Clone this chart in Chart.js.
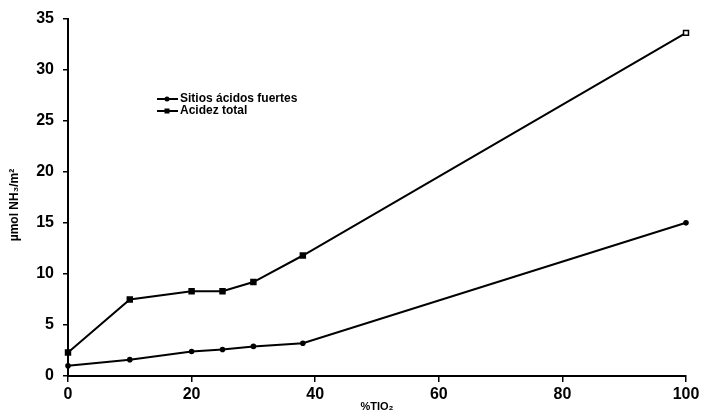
<!DOCTYPE html>
<html>
<head>
<meta charset="utf-8">
<script src="https://cdn.jsdelivr.net/npm/chart.js@4/dist/chart.umd.min.js"></script>
<style>
  html, body { margin: 0; padding: 0; background: #fff; }
  #wrap { width: 703px; height: 416px; position: relative; }
</style>
</head>
<body>
<div id="wrap"><canvas id="c" width="703" height="416"></canvas></div>
<script>
// % TiO2 content of each sample
const tio2 = [0, 10, 20, 25, 30, 38, 100];
// Strong acid sites, µmol NH3/m²
const sitiosFuertes = [1.0, 1.6, 2.4, 2.6, 2.9, 3.2, 15.0];
// Total acidity, µmol NH3/m²
const acidezTotal = [2.3, 7.5, 8.3, 8.3, 9.2, 11.8, 33.6];

const xTicks = [0, 20, 40, 60, 80, 100];
const yTicks = [0, 5, 10, 15, 20, 25, 30, 35];

const seriesNames = ['Sitios ácidos fuertes', 'Acidez total'];
const xTitle = '%TIO₂';
const yTitle = 'µmol NH₃/m²';

const FONT = '"Liberation Sans", Arial, sans-serif';

function toPoints(xs, ys) { return xs.map((x, i) => ({ x: x, y: ys[i] })); }

// Legend and axis titles drawn inside / beside the plot area
const annotations = {
  id: 'annotations',
  afterDraw(chart) {
    const ctx = chart.ctx;
    const xs = chart.scales.x;
    ctx.save();
    // legend
    const rows = [99, 111];
    chart.data.datasets.forEach((ds, i) => {
      const y = rows[i];
      ctx.strokeStyle = '#000';
      ctx.lineWidth = 2;
      ctx.beginPath();
      ctx.moveTo(157, y);
      ctx.lineTo(178, y);
      ctx.stroke();
      ctx.fillStyle = '#000';
      if (ds.pointStyle === 'rect') {
        ctx.fillRect(164.5, y - 2.5, 5, 5);
      } else {
        ctx.beginPath();
        ctx.arc(167, y, 2.5, 0, Math.PI * 2);
        ctx.fill();
      }
      ctx.font = 'bold 12px ' + FONT;
      ctx.textAlign = 'left';
      ctx.textBaseline = 'middle';
      ctx.fillText(ds.label, 180, y);
    });
    // x title
    ctx.font = 'bold 11px ' + FONT;
    ctx.textAlign = 'center';
    ctx.textBaseline = 'middle';
    ctx.fillText(xTitle, (xs.left + xs.right) / 2, 407);
    // y title
    ctx.font = 'bold 12px ' + FONT;
    ctx.translate(15, 205);
    ctx.rotate(-Math.PI / 2);
    ctx.fillText(yTitle, 0, 0);
    ctx.restore();
  }
};

new Chart(document.getElementById('c'), {
  type: 'line',
  data: {
    datasets: [
      {
        label: seriesNames[0],
        data: toPoints(tio2, sitiosFuertes),
        borderColor: '#000',
        backgroundColor: '#000',
        borderWidth: 2,
        pointStyle: 'circle',
        pointRadius: 2.8,
        pointBorderWidth: 0,
        pointBackgroundColor: '#000',
        tension: 0,
        clip: false
      },
      {
        label: seriesNames[1],
        data: toPoints(tio2, acidezTotal),
        borderColor: '#000',
        backgroundColor: '#000',
        borderWidth: 2,
        pointStyle: 'rect',
        pointRadius: 3.5,
        pointBorderWidth: 1.5,
        pointBorderColor: '#000',
        pointBackgroundColor: acidezTotal.map((v, i) => i === acidezTotal.length - 1 ? '#fff' : '#000'),
        tension: 0,
        clip: false
      }
    ]
  },
  options: {
    responsive: false,
    animation: false,
    events: [],
    layout: { padding: { top: 15, right: 17, left: 0, bottom: 0 } },
    plugins: { legend: { display: false }, tooltip: { enabled: false } },
    scales: {
      x: {
        type: 'linear',
        min: 0, max: 100,
        afterFit(s) { s.height = 40; },
        afterBuildTicks(s) { s.ticks = xTicks.map(v => ({ value: v })); },
        grid: { drawOnChartArea: false, drawTicks: true, tickLength: 6, color: '#000', lineWidth: 1.5 },
        border: { color: '#000', width: 2 },
        ticks: { color: '#000', font: { family: FONT, size: 16, weight: 'bold' }, padding: 3, maxRotation: 0 }
      },
      y: {
        type: 'linear',
        min: 0, max: 35,
        afterFit(s) { s.width = 68; },
        afterBuildTicks(s) { s.ticks = yTicks.map(v => ({ value: v })); },
        grid: { drawOnChartArea: false, drawTicks: true, tickLength: 5, color: '#000', lineWidth: 1.5 },
        border: { color: '#000', width: 2 },
        ticks: { color: '#000', font: { family: FONT, size: 16, weight: 'bold' }, padding: 9 }
      }
    }
  },
  plugins: [annotations]
});
</script>
</body>
</html>
